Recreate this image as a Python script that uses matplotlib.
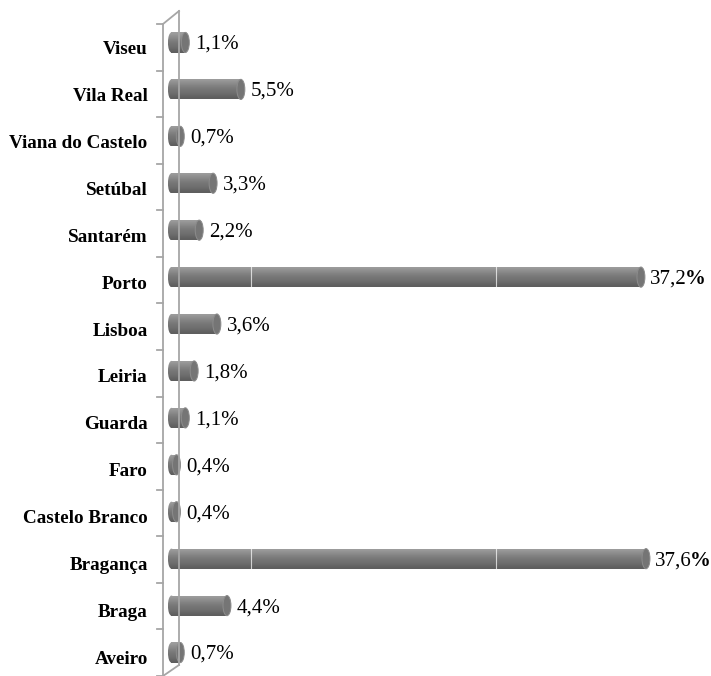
"""Distribution by district - 3D cylinder style horizontal bars"""

import matplotlib
matplotlib.use('Agg')
from matplotlib import pyplot as plt
from matplotlib.patches import Ellipse
from matplotlib.lines import Line2D
from matplotlib.transforms import ScaledTranslation
import numpy as np

districts = ['Aveiro', 'Braga', 'Bragança', 'Castelo Branco', 'Faro', 'Guarda',
             'Leiria', 'Lisboa', 'Porto', 'Santarém', 'Setúbal',
             'Viana do Castelo', 'Vila Real', 'Viseu']
shares = [0.7, 4.4, 37.6, 0.4, 0.4, 1.1, 1.8, 3.6, 37.2, 2.2, 3.3, 0.7, 5.5, 1.1]
labels = ['0,7%', '4,4%', '37,6%', '0,4%', '0,4%', '1,1%', '1,8%', '3,6%',
          '37,2%', '2,2%', '3,3%', '0,7%', '5,5%', '1,1%']

W, H = 711, 676
plt.rcParams['font.family'] = ['Liberation Serif', 'DejaVu Serif']

fig = plt.figure(figsize=(W / 100, H / 100), dpi=100)
ax = fig.add_axes([163 / W, 0, 548 / W, 657 / H])

y = np.arange(len(districts))
bar_h = 0.43
bars = ax.barh(y, shares, height=bar_h, color='none', edgecolor='none')

ax.set_xlim(-0.67, 42.75)
ax.set_ylim(-0.5, len(districts) - 0.5)

# vertical gradient for the cylinder body
grad = np.array([0.62, 0.58, 0.54, 0.50, 0.47, 0.45, 0.43, 0.40, 0.37]).reshape(-1, 1)
cap_w = 0.63
for b, v in zip(bars, shares):
    y0 = b.get_y()
    body = ax.imshow(grad, cmap='gray', vmin=0, vmax=1, aspect='auto',
                     extent=(0, v, y0, y0 + bar_h), origin='upper',
                     interpolation='bicubic', zorder=2)
    body.set_clip_path(b)
    left = Ellipse((0, y0 + bar_h / 2), 0.56, bar_h, facecolor='none',
                   edgecolor='none')
    ax.add_patch(left)
    lend = ax.imshow(grad, cmap='gray', vmin=0, vmax=1, aspect='auto',
                     extent=(-0.3, 0.3, y0, y0 + bar_h), origin='upper',
                     interpolation='bicubic', zorder=2)
    lend.set_clip_path(left)
    cap = Ellipse((v, y0 + bar_h / 2), cap_w, bar_h, facecolor='#757575',
                  edgecolor='#8c8c8c', linewidth=0.7, zorder=3)
    ax.add_patch(cap)

# faint gridlines showing through the bars
for gx in (6.3, 25.7):
    ax.axvline(gx, color='white', linewidth=0.8, alpha=0.7, zorder=4)

ax.set_xticks([])
ax.set_yticks(y)
ax.set_yticklabels(districts, fontsize=13.8, fontweight='bold')
ax.tick_params(axis='y', length=0, pad=11)
shift = ScaledTranslation(0, -5 / 100, fig.dpi_scale_trans)
for lab in ax.get_yticklabels():
    lab.set_transform(lab.get_transform() + shift)
for s in ax.spines.values():
    s.set_visible(False)

renderer = fig.canvas.get_renderer()
for yy, v, lab in zip(y, shares, labels):
    if v > 30:
        t = ax.annotate(lab[:-1], (v + cap_w / 2, yy), xytext=(5, -2),
                        textcoords='offset pixels', va='center', ha='left',
                        fontsize=15, zorder=5)
        bb = t.get_window_extent(renderer)
        fig.text((bb.x1 - 2) / W, (bb.y0 + bb.y1) / 2 / H, '%', fontsize=15,
                 fontweight='bold', va='center', ha='left')
    else:
        ax.annotate(lab, (v + cap_w / 2, yy), xytext=(6, -2),
                    textcoords='offset pixels', va='center', ha='left',
                    fontsize=15, zorder=5)

# 3D wall outline, drawn in figure pixels
def px_line(xs, ys):
    fig.add_artist(Line2D([x / W for x in xs], [1 - q / H for q in ys],
                          color='#a6a6a6', linewidth=1.3, zorder=1))

px_line([179, 179], [11, 665])
px_line([163, 163], [24, 676])
px_line([163, 179], [24, 11])
px_line([163, 179], [676, 665])
n = len(districts)
for k in range(n + 1):
    yk = 24 + k * (676 - 24) / n
    px_line([157, 163], [yk, yk])

fig.savefig('out.png', dpi=100)
